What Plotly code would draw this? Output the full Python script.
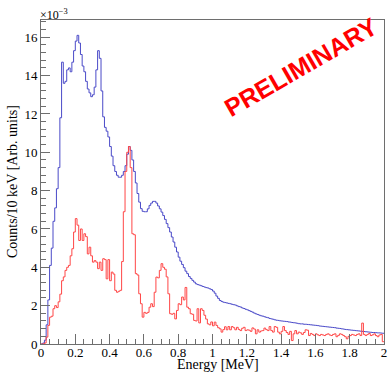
import numpy as np
import plotly.graph_objects as go

# Energy spectra, 10 keV bins from 0 to 2 MeV (counts in units of 1e-3)
bin_width = 0.01
e_min = 0.0

total_counts = [
    0.0, 0.05, 0.2, 1.0, 2.3, 4.1, 5.0, 6.4, 7.1, 8.1,
    9.2, 11.8, 14.7, 13.6, 13.7, 14.3, 14.4, 14.2, 14.7, 15.3,
    15.8, 16.1, 15.7, 15.1, 14.5, 14.2, 13.7, 13.3, 13.1, 12.9,
    13.0, 13.4, 14.3, 15.3, 14.9, 13.2, 11.85, 11.3, 11.1, 10.8,
    10.3, 9.8, 9.3, 9.0, 8.8, 8.7, 8.7, 8.8, 9.0, 9.3,
    9.9, 10.3, 10.1, 9.6, 9.0, 8.4, 7.85, 7.4, 7.06, 6.92,
    6.9, 6.9, 7.05, 7.23, 7.35, 7.44, 7.44, 7.35, 7.2, 7.05,
    6.88, 6.7, 6.5, 6.28, 6.07, 5.84, 5.58, 5.32, 5.05, 4.8,
    4.53, 4.32, 4.15, 3.98, 3.8, 3.67, 3.52, 3.42, 3.32, 3.23,
    3.14, 3.1, 3.07, 3.04, 3.0, 2.97, 2.94, 2.92, 2.88, 2.84,
    2.76, 2.65, 2.5, 2.38, 2.27, 2.22, 2.18, 2.16, 2.14, 2.12,
    2.1, 2.07, 2.05, 2.03, 1.99, 1.95, 1.93, 1.88, 1.85, 1.81,
    1.78, 1.74, 1.7, 1.66, 1.61, 1.57, 1.54, 1.5, 1.47, 1.45,
    1.42, 1.39, 1.37, 1.33, 1.31, 1.29, 1.26, 1.24, 1.23, 1.21,
    1.2, 1.19, 1.18, 1.17, 1.15, 1.14, 1.12, 1.11, 1.1, 1.08,
    1.06, 1.05, 1.05, 1.03, 1.03, 1.02, 1.01, 1.0, 0.99, 0.98,
    0.97, 0.96, 0.94, 0.93, 0.92, 0.91, 0.9, 0.89, 0.88, 0.87,
    0.86, 0.85, 0.83, 0.82, 0.81, 0.79, 0.78, 0.76, 0.75, 0.74,
    0.73, 0.72, 0.71, 0.7, 0.69, 0.68, 0.67, 0.66, 0.65, 0.64,
    0.63, 0.62, 0.61, 0.6, 0.6, 0.59, 0.58, 0.58, 0.57, 0.56,
]

selected_counts = [
    0.0, 0.0, 0.05, 0.36, 0.97, 1.4, 1.45, 1.84, 2.0, 1.9,
    2.2, 2.6, 3.3, 3.5, 3.84, 4.0, 4.1, 4.6, 4.97, 5.84,
    6.54, 6.2, 5.4, 6.0, 5.4, 5.75, 5.6, 4.7, 5.05, 4.6,
    4.27, 4.35, 4.27, 3.93, 4.27, 3.84, 4.45, 4.4, 3.4, 4.4,
    3.3, 3.75, 3.65, 2.8, 2.7, 2.75, 2.8, 4.3, 6.9, 9.0,
    10.0, 10.3, 9.2, 5.75, 5.7, 3.67, 3.6, 2.62, 2.1, 1.4,
    1.65, 1.6, 1.65, 1.92, 2.1, 1.95, 2.7, 3.49, 3.45, 3.84,
    4.19, 4.0, 3.9, 3.5, 2.62, 1.58, 1.55, 1.6, 1.31, 1.75,
    2.1, 2.05, 2.45, 2.3, 2.95, 1.92, 1.84, 1.58, 1.55, 1.23,
    1.2, 1.84, 1.1, 1.84, 1.75, 1.5, 1.3, 1.05, 1.0, 1.15,
    0.95, 1.14, 0.97, 0.85, 0.79, 0.62, 0.75, 0.9, 0.74, 0.91,
    0.74, 0.91, 0.85, 0.74, 0.87, 0.76, 0.7, 0.82, 0.87, 0.7,
    0.74, 0.72, 0.66, 0.84, 0.78, 0.53, 0.74, 0.62, 0.68, 0.7,
    0.83, 0.75, 0.7, 0.91, 0.7, 0.62, 0.91, 0.87, 0.62, 0.53,
    0.66, 0.91, 0.7, 0.6, 0.5, 0.66, 0.18, 0.53, 0.7, 0.53,
    0.62, 0.58, 0.5, 0.6, 0.74, 0.72, 0.44, 0.55, 0.5, 0.44,
    0.53, 0.48, 0.44, 0.5, 0.47, 0.44, 0.5, 0.53, 0.47, 0.44,
    0.5, 0.53, 0.38, 0.45, 0.53, 0.5, 0.44, 0.38, 0.27, 0.4,
    0.44, 0.5, 0.47, 0.44, 0.5, 0.53, 0.44, 1.09, 0.5, 0.44,
    0.5, 0.55, 0.44, 0.48, 0.53, 0.44, 0.38, 0.47, 0.5, 0.12,
]

x_tick_values = [0, 0.2, 0.4, 0.6, 0.8, 1, 1.2, 1.4, 1.6, 1.8, 2]
y_tick_values = [0, 2, 4, 6, 8, 10, 12, 14, 16]


def step_outline(counts):
    """Bin edges and heights for a histogram drawn as a step line."""
    edges = e_min + bin_width * np.arange(len(counts) + 1)
    heights = list(counts) + [counts[-1]]
    return edges, heights


serif = "Liberation Serif, Times New Roman, serif"
axis_grey = "#6e6e6e"

fig = go.Figure()
for counts, colour in ((total_counts, "#4a4ac8"), (selected_counts, "#ff4646")):
    ex, hy = step_outline(counts)
    fig.add_trace(go.Scatter(
        x=ex, y=hy, mode="lines", line_shape="hv",
        line=dict(color=colour, width=1), showlegend=False, hoverinfo="skip",
    ))

fig.update_layout(
    width=389, height=373,
    margin=dict(l=41, r=5, t=20, b=29, autoexpand=False),
    paper_bgcolor="white", plot_bgcolor="white",
    font=dict(family=serif, size=13, color="black"),
    xaxis=dict(
        range=[0, 2], tickvals=x_tick_values, ticks="inside", ticklen=10,
        tickcolor=axis_grey, showgrid=False, zeroline=False, automargin=False,
        showline=True, linecolor=axis_grey, linewidth=1, mirror=True,
        minor=dict(dtick=0.05, tick0=0, ticks="inside", ticklen=5, tickcolor=axis_grey),
        tickfont=dict(family=serif, size=13), ticklabelstandoff=-4,
    ),
    yaxis=dict(
        range=[0, 16.9], tickvals=y_tick_values, ticks="inside", ticklen=9,
        tickcolor=axis_grey, showgrid=False, zeroline=False, automargin=False,
        showline=True, linecolor=axis_grey, linewidth=1, mirror=True,
        minor=dict(dtick=0.4, tick0=0, ticks="inside", ticklen=5, tickcolor=axis_grey),
        tickfont=dict(family=serif, size=13),
    ),
)

# axis titles
fig.add_annotation(
    text="Energy [MeV]", xref="paper", yref="paper", x=0.516, y=0,
    xanchor="center", yanchor="middle", yshift=-20, borderpad=0, showarrow=False,
    font=dict(family=serif, size=14),
)
fig.add_annotation(
    text="Counts/10 keV [Arb. units]", xref="paper", yref="paper", x=0, y=0.5,
    xanchor="center", yanchor="middle", xshift=-29, showarrow=False,
    textangle=-90, font=dict(family=serif, size=14),
)

# axis exponent label
fig.add_annotation(
    text="×10<sup>−3</sup>", xref="paper", yref="paper", x=0, y=1,
    xanchor="left", yanchor="bottom", showarrow=False,
    font=dict(family=serif, size=12), xshift=-3, yshift=-4,
)

# watermark
fig.add_annotation(
    text="PRELIMINARY", xref="paper", yref="paper", x=0.757, y=0.855,
    xanchor="center", yanchor="middle",
    showarrow=False, textangle=-30,
    font=dict(family="Liberation Sans, Arial, sans-serif", size=25, color="#ff0000", weight="bold"),
)

fig.write_html("out.html")
